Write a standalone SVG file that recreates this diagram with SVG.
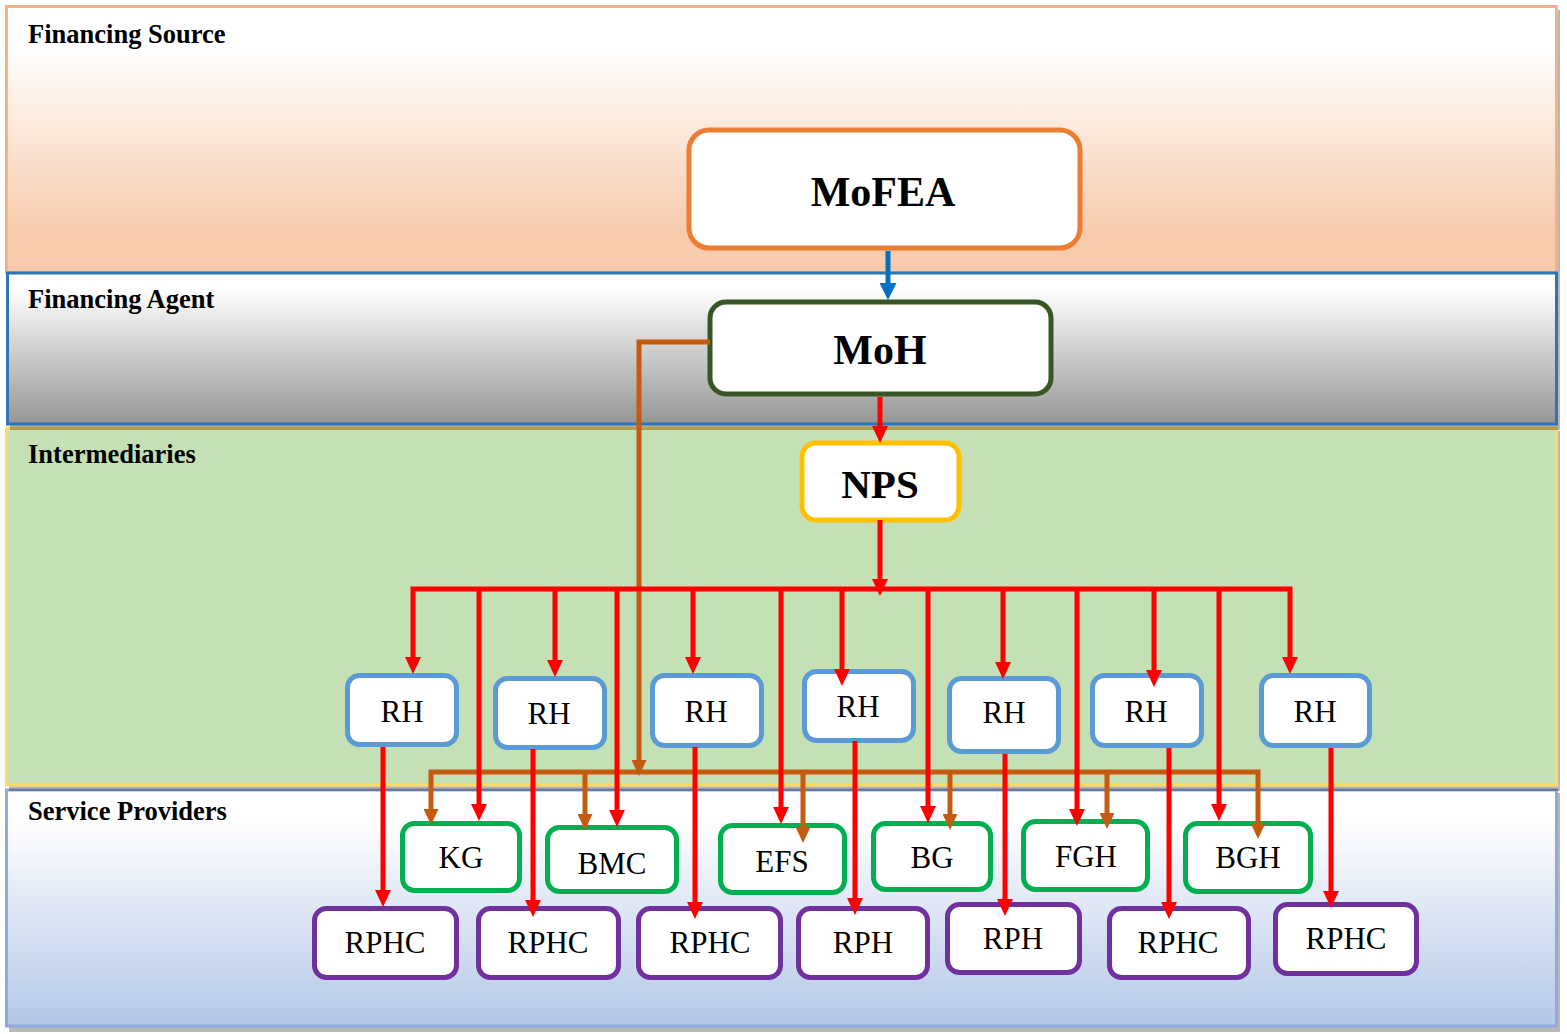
<svg xmlns="http://www.w3.org/2000/svg" width="1567" height="1034" viewBox="0 0 1567 1034">
<defs>
<linearGradient id="gSrc" x1="0" y1="0" x2="0" y2="1"><stop offset="0" stop-color="#FFFFFF"/><stop offset="0.15" stop-color="#FFFFFF"/><stop offset="0.85" stop-color="#F8CBAD"/><stop offset="1" stop-color="#F8CBAD"/></linearGradient>
<linearGradient id="gAgt" x1="0" y1="0" x2="0" y2="1"><stop offset="0" stop-color="#FFFFFF"/><stop offset="0.1" stop-color="#FFFFFF"/><stop offset="1" stop-color="#969696"/></linearGradient>
<linearGradient id="gSvc" x1="0" y1="0" x2="0" y2="1"><stop offset="0" stop-color="#FFFFFF"/><stop offset="0.12" stop-color="#FFFFFF"/><stop offset="1" stop-color="#B4C7E7"/></linearGradient>
<marker id="aRed" markerUnits="userSpaceOnUse" viewBox="0 0 17 16" refX="1" refY="8" markerWidth="17" markerHeight="16" orient="auto-start-reverse"><path d="M0,0 L17,8 L0,16 z" fill="#FF0000"/></marker>
<marker id="aBrn" markerUnits="userSpaceOnUse" viewBox="0 0 16 15" refX="1" refY="7.5" markerWidth="16" markerHeight="15" orient="auto-start-reverse"><path d="M0,0 L16,7.5 L0,15 z" fill="#C55A11"/></marker>
<marker id="aBlu" markerUnits="userSpaceOnUse" viewBox="0 0 17 17" refX="1" refY="8.5" markerWidth="17" markerHeight="17" orient="auto"><path d="M0,0 L17,8.5 L0,17 z" fill="#0070C0"/></marker>
</defs>
<style>
.shadow{fill:#000000;fill-opacity:0.28}
.band-label{font-family:"Liberation Serif","Times New Roman",serif;font-weight:bold;font-size:26.5px;fill:#000}
.box{fill:#FFFFFF;stroke-width:5}
.big{font-family:"Liberation Serif","Times New Roman",serif;font-weight:bold;font-size:42px;fill:#000;text-anchor:middle}
.lbl{font-family:"Liberation Serif","Times New Roman",serif;font-size:31px;fill:#000;text-anchor:middle}
.rh{stroke:#5B9BD5}
.gr{stroke:#00B050}
.pu{stroke:#7030A0}
.red{fill:none;stroke:#FF0000;stroke-width:5;marker-end:url(#aRed)}
.brn{fill:none;stroke:#C55A11;stroke-width:5;marker-end:url(#aBrn)}
</style>

<g id="bands">
  <g id="band-financing-source">
    <rect class="shadow" x="9" y="10" width="1551" height="266"/>
    <rect x="6.5" y="6.5" width="1550" height="266" fill="url(#gSrc)" stroke="#F4B183" stroke-width="3"/>
    <text class="band-label" x="28" y="43">Financing Source</text>
  </g>
  <g id="band-service-providers">
    <rect class="shadow" x="9" y="793" width="1551" height="239"/>
    <rect x="6.5" y="790" width="1550" height="236" fill="url(#gSvc)" stroke="#8FAADC" stroke-width="3"/>
    <text class="band-label" x="28" y="820">Service Providers</text>
  </g>
  <g id="band-intermediaries">
    <rect class="shadow" x="9" y="431" width="1551" height="360"/>
    <rect x="6.5" y="428" width="1550" height="357" fill="#C5E0B4" stroke="#FFD966" stroke-width="3"/>
    <text class="band-label" x="28" y="463">Intermediaries</text>
  </g>
  <g id="band-financing-agent">
    <rect class="shadow" x="10" y="276" width="1550" height="154"/>
    <rect x="7.5" y="273" width="1549" height="151" fill="url(#gAgt)" stroke="#2E75B6" stroke-width="3"/>
    <text class="band-label" x="28" y="308">Financing Agent</text>
  </g>
</g>

<g id="node-mofea"><rect class="box" x="689" y="130" width="391" height="118" rx="20" stroke="#ED7D31"/><text class="big" x="883" y="206">MoFEA</text></g>
<g id="node-moh"><rect class="box" x="710" y="302" width="341" height="92" rx="16" stroke="#375623"/><text class="big" x="880" y="364">MoH</text></g>
<g id="node-nps"><rect class="box" x="802" y="443" width="157" height="77" rx="14" stroke="#FFC000"/><text class="big" x="880" y="498" style="font-size:41px">NPS</text></g>

<g id="node-rh1"><rect class="box rh" x="347.5" y="675.5" width="109" height="69" rx="12"/><text class="lbl" x="402" y="722">RH</text></g>
<g id="node-rh2"><rect class="box rh" x="495.5" y="678.5" width="109" height="69" rx="12"/><text class="lbl" x="549" y="724">RH</text></g>
<g id="node-rh3"><rect class="box rh" x="652.5" y="675.5" width="109" height="70" rx="12"/><text class="lbl" x="706" y="722">RH</text></g>
<g id="node-rh4"><rect class="box rh" x="804.5" y="671.5" width="109" height="69" rx="12"/><text class="lbl" x="858" y="717">RH</text></g>
<g id="node-rh5"><rect class="box rh" x="949.5" y="678.5" width="109" height="73" rx="12"/><text class="lbl" x="1004" y="723">RH</text></g>
<g id="node-rh6"><rect class="box rh" x="1092.5" y="675.5" width="109" height="70" rx="12"/><text class="lbl" x="1146" y="722">RH</text></g>
<g id="node-rh7"><rect class="box rh" x="1261.5" y="675.5" width="108" height="70" rx="12"/><text class="lbl" x="1315" y="722">RH</text></g>

<g id="node-kg"><rect class="box gr" x="402.5" y="823.5" width="117" height="67" rx="12"/><text class="lbl" x="461" y="868">KG</text></g>
<g id="node-bmc"><rect class="box gr" x="547.5" y="827.5" width="129" height="64" rx="12"/><text class="lbl" x="612" y="874">BMC</text></g>
<g id="node-efs"><rect class="box gr" x="720.5" y="825.5" width="124" height="67" rx="12"/><text class="lbl" x="782" y="872">EFS</text></g>
<g id="node-bg"><rect class="box gr" x="873.5" y="823.5" width="117" height="66" rx="12"/><text class="lbl" x="932" y="868">BG</text></g>
<g id="node-fgh"><rect class="box gr" x="1023.5" y="821.5" width="124" height="68" rx="12"/><text class="lbl" x="1086" y="867">FGH</text></g>
<g id="node-bgh"><rect class="box gr" x="1185.5" y="823.5" width="125" height="68" rx="12"/><text class="lbl" x="1248" y="868">BGH</text></g>

<g id="node-rphc1"><rect class="box pu" x="314.5" y="908.5" width="142" height="69" rx="12"/><text class="lbl" x="385" y="953">RPHC</text></g>
<g id="node-rphc2"><rect class="box pu" x="478.5" y="908.5" width="140" height="69" rx="12"/><text class="lbl" x="548" y="953">RPHC</text></g>
<g id="node-rphc3"><rect class="box pu" x="638.5" y="908.5" width="142" height="69" rx="12"/><text class="lbl" x="710" y="953">RPHC</text></g>
<g id="node-rph4"><rect class="box pu" x="798.5" y="908.5" width="129" height="69" rx="12"/><text class="lbl" x="863" y="953">RPH</text></g>
<g id="node-rph5"><rect class="box pu" x="947.5" y="904.5" width="132" height="68" rx="12"/><text class="lbl" x="1013" y="949">RPH</text></g>
<g id="node-rphc6"><rect class="box pu" x="1109.5" y="908.5" width="139" height="69" rx="12"/><text class="lbl" x="1178" y="953">RPHC</text></g>
<g id="node-rphc7"><rect class="box pu" x="1275.5" y="904.5" width="141" height="69" rx="12"/><text class="lbl" x="1346" y="949">RPHC</text></g>

<g id="connectors">
  <path d="M888,251 V284" fill="none" stroke="#0070C0" stroke-width="5" marker-end="url(#aBlu)"/>
  <path class="brn" d="M710,342 H639 V761"/>
  <path class="brn" d="M431,810 V772 H1258 V824" style="marker-start:url(#aBrn)"/>
  <path class="brn" d="M585,770 V815"/>
  <path class="brn" d="M803,770 V828"/>
  <path class="brn" d="M950,770 V815"/>
  <path class="brn" d="M1107,770 V814"/>
  <path class="red" d="M880,397 V427"/>
  <path class="red" d="M880,520 V580"/>
  <path class="red" d="M413,658 V589 H1290 V658" style="marker-start:url(#aRed)"/>
  <path class="red" d="M479,587 V805"/>
  <path class="red" d="M555,587 V661"/>
  <path class="red" d="M617,587 V811"/>
  <path class="red" d="M693,587 V658"/>
  <path class="red" d="M781,587 V808"/>
  <path class="red" d="M842,587 V670"/>
  <path class="red" d="M928,587 V807"/>
  <path class="red" d="M1003,587 V663"/>
  <path class="red" d="M1077,587 V810"/>
  <path class="red" d="M1154,587 V671"/>
  <path class="red" d="M1219,587 V805"/>
  <path class="red" d="M383,747 V891"/>
  <path class="red" d="M533,749 V901"/>
  <path class="red" d="M695,747 V903"/>
  <path class="red" d="M855,741 V899"/>
  <path class="red" d="M1005,754 V900"/>
  <path class="red" d="M1169,748 V903"/>
  <path class="red" d="M1331,748 V892"/>
</g>
</svg>
